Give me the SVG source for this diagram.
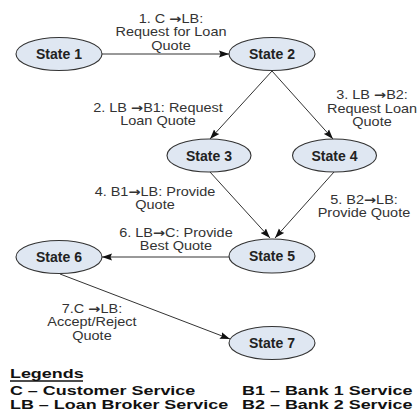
<svg xmlns="http://www.w3.org/2000/svg" width="417" height="416" viewBox="0 0 417 416">
<style>
.node ellipse{fill:#dfe7f2;stroke:#333;stroke-width:1.1}
.node text{font-family:"Liberation Sans",Arial,sans-serif;font-size:14px;font-weight:bold;fill:#222;text-anchor:middle}
.edge{stroke:#333;stroke-width:1;fill:none;marker-end:url(#arr)}
.lbl{font-family:"Liberation Sans",Arial,sans-serif;font-size:12.6px;fill:#333;text-anchor:middle}
.ar{font-family:"DejaVu Sans",sans-serif;font-weight:bold}
.leg{font-family:"Liberation Sans",Arial,sans-serif;font-size:13px;font-weight:bold;fill:#111}
</style>
<defs>
<marker id="arr" markerUnits="userSpaceOnUse" markerWidth="11" markerHeight="8" refX="10" refY="4" orient="auto">
<path d="M0,0.5 L10,4 L0,7.5 L1.5,4 z" fill="#111"/>
</marker>
</defs>
<rect width="417" height="416" fill="#fff"/>
<g id="connectors">
<line class="edge" x1="102" y1="54" x2="229" y2="54"/>
<line class="edge" x1="272" y1="71" x2="210" y2="139"/>
<line class="edge" x1="272" y1="71" x2="333" y2="139"/>
<line class="edge" x1="210" y1="172" x2="270" y2="238"/>
<line class="edge" x1="334" y1="172" x2="275" y2="238"/>
<line class="edge" x1="229" y1="257" x2="102" y2="257"/>
<line class="edge" x1="60" y1="274" x2="230" y2="339"/>
</g>
<g id="edge-labels" transform="scale(1.15 1)">
<text class="lbl" x="148.7" y="23">1. C <tspan class="ar">→</tspan>LB:</text>
<text class="lbl" x="148.7" y="36.5">Request for Loan</text>
<text class="lbl" x="148.7" y="50">Quote</text>
<text class="lbl" x="137.4" y="112">2. LB <tspan class="ar">→</tspan>B1: Request</text>
<text class="lbl" x="137.4" y="125.5">Loan Quote</text>
<text class="lbl" x="323.5" y="99">3. LB <tspan class="ar">→</tspan>B2:</text>
<text class="lbl" x="323.5" y="113">Request Loan</text>
<text class="lbl" x="323.5" y="126.5">Quote</text>
<text class="lbl" x="134.8" y="196">4. B1<tspan class="ar">→</tspan>LB: Provide</text>
<text class="lbl" x="134.8" y="209">Quote</text>
<text class="lbl" x="316.5" y="204">5. B2<tspan class="ar">→</tspan>LB:</text>
<text class="lbl" x="316.5" y="217">Provide Quote</text>
<text class="lbl" x="153" y="237">6. LB<tspan class="ar">→</tspan>C: Provide</text>
<text class="lbl" x="153" y="250">Best Quote</text>
<text class="lbl" x="80" y="313">7.C <tspan class="ar">→</tspan>LB:</text>
<text class="lbl" x="80" y="326.5">Accept/Reject</text>
<text class="lbl" x="80" y="340">Quote</text>
</g>
<g id="state1" class="node"><ellipse cx="59" cy="54" rx="43" ry="16.5"/><text x="59" y="59">State 1</text></g>
<g id="state2" class="node"><ellipse cx="272" cy="54" rx="43" ry="16.5"/><text x="272" y="59">State 2</text></g>
<g id="state3" class="node"><ellipse cx="209" cy="155.5" rx="42" ry="16.5"/><text x="209" y="160.5">State 3</text></g>
<g id="state4" class="node"><ellipse cx="334.5" cy="155.5" rx="42" ry="16.5"/><text x="334.5" y="160.5">State 4</text></g>
<g id="state5" class="node"><ellipse cx="272" cy="256" rx="43" ry="17"/><text x="272" y="261">State 5</text></g>
<g id="state6" class="node"><ellipse cx="59" cy="257" rx="43" ry="16.5"/><text x="59" y="262">State 6</text></g>
<g id="state7" class="node"><ellipse cx="272" cy="343" rx="43" ry="16.5"/><text x="272" y="348">State 7</text></g>
<g id="legend">
<g transform="scale(1.38 1)">
<text class="leg" x="7.2" y="378">Legends</text>
<text class="leg" x="7.2" y="395.5">C – Customer Service</text>
<text class="leg" x="7.2" y="409">LB – Loan Broker Service</text>
<text class="leg" x="175.4" y="395.5">B1 – Bank 1 Service</text>
<text class="leg" x="175.4" y="409">B2 – Bank 2 Service</text>
</g>
<line x1="10" y1="381" x2="83" y2="381" stroke="#111" stroke-width="1.3"/>
</g>
</svg>
